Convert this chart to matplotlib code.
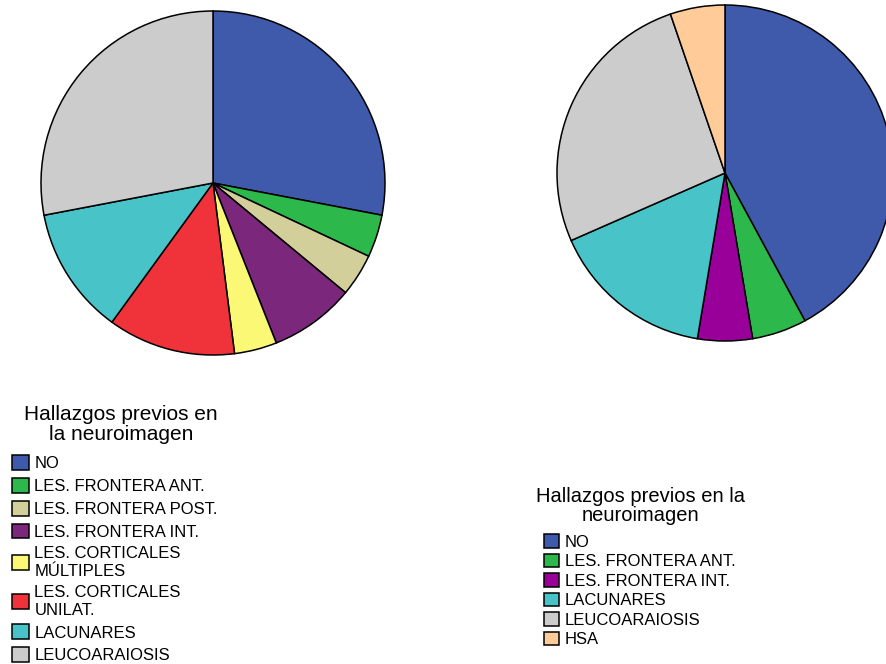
import matplotlib.pyplot as plt

plt.rcParams['font.family'] = ['Liberation Sans', 'DejaVu Sans']

# Hallazgos previos en la neuroimagen (número de pacientes)
grupo1_labels = ["NO", "LES. FRONTERA ANT.", "LES. FRONTERA POST.", "LES. FRONTERA INT.",
                 "LES. CORTICALES\nMÚLTIPLES", "LES. CORTICALES\nUNILAT.", "LACUNARES",
                 "LEUCOARAIOSIS"]
grupo1_values = [7, 1, 1, 2, 1, 3, 3, 7]
grupo1_colors = ["#3F59AB", "#2DB84B", "#D3CF9A", "#7B277B", "#FBF875", "#F0333B",
                 "#48C3C8", "#CCCCCC"]

grupo2_labels = ["NO", "LES. FRONTERA ANT.", "LES. FRONTERA INT.", "LACUNARES",
                 "LEUCOARAIOSIS", "HSA"]
grupo2_values = [8, 1, 1, 3, 5, 1]
grupo2_colors = ["#3F59AB", "#2DB84B", "#990099", "#48C3C8", "#CCCCCC", "#FFCC99"]

W, H = 887, 664
fig = plt.figure(figsize=(W / 100, H / 100), dpi=100)


def pie_axes(cx, cy, r):
    # ejes cuadrados centrados en (cx, cy) en píxeles
    ax = fig.add_axes([(cx - r) / W, (H - cy - r) / H, 2 * r / W, 2 * r / H])
    ax.axis('off')
    return ax


def fix_limits(ax):
    ax.set_xlim(-1, 1)
    ax.set_ylim(-1, 1)
    ax.set_aspect('equal')


ax1 = pie_axes(213, 183, 172)
w1, _ = ax1.pie(grupo1_values, colors=grupo1_colors, startangle=90, counterclock=False,
                radius=1, wedgeprops=dict(edgecolor='black', linewidth=1.1))
fix_limits(ax1)

ax2 = pie_axes(725, 173, 168)
w2, _ = ax2.pie(grupo2_values, colors=grupo2_colors, startangle=90, counterclock=False,
                radius=1, wedgeprops=dict(edgecolor='black', linewidth=1.1))
fix_limits(ax2)

# títulos de las leyendas
fig.text(121 / W, 1 - 424.5 / H, "Hallazgos previos en\nla neuroimagen", ha='center',
         va='center', fontsize=15, linespacing=1.07)
fig.text(641 / W, 1 - 506 / H, "Hallazgos previos en la\nneuroimagen", ha='center',
         va='center', fontsize=14.5, linespacing=0.98)

fig.legend(w1, grupo1_labels, loc='upper left', bbox_to_anchor=(12 / W, 1 - 455 / H),
           frameon=False, fontsize=12, handlelength=1.0, handleheight=1.0,
           handletextpad=0.35, labelspacing=0.4, borderpad=0, borderaxespad=0)

fig.legend(w2, grupo2_labels, loc='upper left', bbox_to_anchor=(544 / W, 1 - 534 / H),
           frameon=False, fontsize=12, handlelength=0.9, handleheight=0.9,
           handletextpad=0.35, labelspacing=0.23, borderpad=0, borderaxespad=0)

fig.savefig("out.png", dpi=100)
